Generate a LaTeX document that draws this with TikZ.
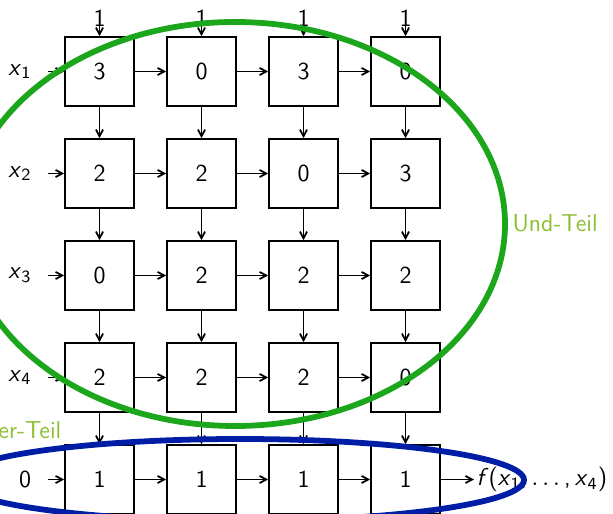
\documentclass[tikz,border=0pt]{standalone}
\usetikzlibrary{arrows.meta}
\definecolor{ellgreen}{RGB}{28,166,28}
\definecolor{labgreen}{RGB}{140,192,50}
\definecolor{ellblue}{RGB}{0,30,165}
\newcommand{\vx}[1]{\textsl{x}\textsubscript{#1}}
\begin{document}
\begin{tikzpicture}[x=0.45pt,y=-0.45pt,
  font=\sffamily\fontsize{11}{13}\selectfont,
  cell/.style={draw, thick, minimum size=31pt, inner sep=0pt},
  conn/.style={-{Straight Barb[length=3pt,width=3.2pt]}, thick},
  lab/.style={inner sep=1pt},
  part/.style={text=labgreen, inner sep=1pt},
  ring/.style={line width=2.6pt}]
\useasboundingbox (0,0) rectangle (613,514);
% cells
\foreach \row [count=\r] in {{3,0,3,0},{2,2,0,3},{0,2,2,2},{2,2,2,0},{1,1,1,1}} {
  \foreach \v [count=\c] in \row {
    \node[cell] (c\r\c) at ({99.5+102*(\c-1)}, {71.5+102*(\r-1)}) {\v};
  }
}
% top inputs
\foreach \c in {1,...,4} {
  \node[lab] (t\c) at ({99.5+102*(\c-1)}, 18) {1};
  \coordinate (ts\c) at ({99.5+102*(\c-1)}, 10);
  \draw[conn] (ts\c) -- (c1\c.north);
}
% left inputs
\foreach \r in {1,...,4} {
  \node[lab] (l\r) at (20, {71.5+102*(\r-1)}) {\vx{\r}};
  \coordinate (ls\r) at (48, {71.5+102*(\r-1)});
  \draw[conn] (ls\r) -- (c\r1.west);
}
\node[lab] (l5) at (25, 479.5) {0};
\coordinate (ls5) at (48, 479.5);
\draw[conn] (ls5) -- (c51.west);
% horizontal connectors
\foreach \r in {1,...,5} {
  \foreach \c [evaluate=\c as \n using int(\c+1)] in {1,2,3} {
    \draw[conn] (c\r\c.east) -- (c\r\n.west);
  }
}
% vertical connectors
\foreach \r [evaluate=\r as \n using int(\r+1)] in {1,2,3,4} {
  \foreach \c in {1,...,4} {
    \draw[conn] (c\r\c.south) -- (c\n\c.north);
  }
}
% output
\node[lab, anchor=west] (f) at (474, 479.5) {\textsl{f}(\vx{1},\,$\ldots$\,,\,\vx{4})};
\draw[conn] (c54.east) -- (f.west);
% parts
\draw[ellgreen, ring] (235,224) ellipse [x radius=270, y radius=202];
\draw[ellblue, ring] (240,480) ellipse [x radius=284, y radius=41];
\node[part, anchor=west] (und) at (510, 223) {Und-Teil};
\node[part, anchor=east] (oder) at (64, 430) {Oder-Teil};
\end{tikzpicture}
\end{document}
